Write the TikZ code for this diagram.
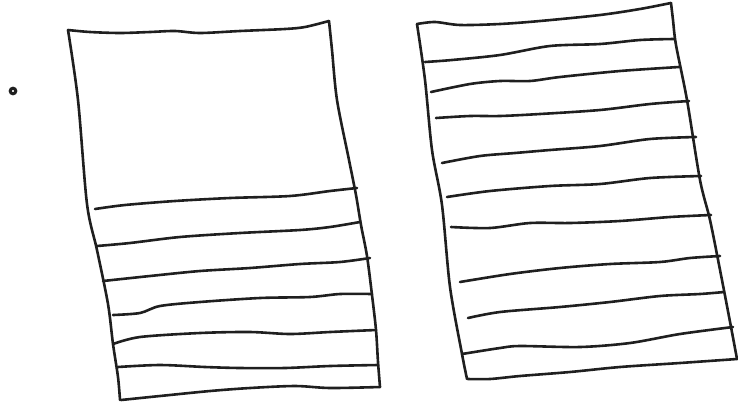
\documentclass[tikz,border=0pt]{standalone}
\begin{document}
\begin{tikzpicture}[x=1pt,y=-1pt,
  ink/.style={line width=2.6pt,line cap=round,line join=round,black!88},
  rule/.style={ink}]
\useasboundingbox (0,0) rectangle (738,408);
% dot
\draw[line width=3pt,black!88] (13,91) circle (2.8);
% ---------- left page ----------
\draw[ink] plot[smooth,tension=0.5] coordinates {(68,30) (90,32) (120,33) (150,32) (175,31) (200,33) (240,31) (285,29) (305,27) (329,21)};
\draw[ink] plot[smooth,tension=0.5] coordinates {(68,30) (78,100) (87,204) (97,250) (108,304) (113,344) (118,377) (120,400)};
\draw[ink] plot[smooth,tension=0.5] coordinates {(329,21) (332,50) (337,100) (349,160) (356,195) (361,225) (367,256) (372,295) (376,330) (378,362) (380,387)};
\draw[rule] plot[smooth,tension=0.5] coordinates {(95,209) (125,205) (175,201) (230,198) (290,196) (330,191) (357,188)};
\draw[rule] plot[smooth,tension=0.5] coordinates {(97,246) (130,243) (180,237) (240,233) (300,230) (330,227) (360,222)};
\draw[rule] plot[smooth,tension=0.5] coordinates {(103,281) (150,276) (200,271) (250,268) (300,264) (340,262) (370,258)};
\draw[rule] plot[smooth,tension=0.5] coordinates {(113,315) (140,313) (160,306) (200,302) (260,298) (310,297) (340,294) (372,294)};
\draw[rule] plot[smooth,tension=0.5] coordinates {(113,344) (140,337) (200,333) (250,332) (290,334) (330,332) (376,330)};
\draw[rule] plot[smooth,tension=0.5] coordinates {(118,367) (160,365) (205,367) (240,368) (285,368) (330,366) (378,365)};
\draw[ink] plot[smooth,tension=0.5] coordinates {(121,400) (160,396) (210,391) (250,388) (295,386) (330,388) (380,387)};
% ---------- right page ----------
\draw[ink] plot[smooth,tension=0.5] coordinates {(417,24) (435,22) (460,25) (500,24) (540,21) (600,15) (640,9) (671,3)};
\draw[ink] plot[smooth,tension=0.5] coordinates {(417,24) (425,80) (432,150) (442,205) (450,287) (462,354) (467,379)};
\draw[ink] plot[smooth,tension=0.5] coordinates {(671,3) (673,20) (676,45) (687,100) (700,180) (710,220) (721,275) (731,327) (737,359)};
\draw[rule] plot[smooth,tension=0.5] coordinates {(425,62) (452,60) (500,55) (550,46) (600,44) (640,40) (674,39)};
\draw[rule] plot[smooth,tension=0.5] coordinates {(431,92) (470,84) (500,81) (530,81) (560,77) (620,71) (679,67)};
\draw[rule] plot[smooth,tension=0.5] coordinates {(436,118) (470,116) (500,116) (540,114) (600,110) (650,104) (689,101)};
\draw[rule] plot[smooth,tension=0.5] coordinates {(442,163) (480,156) (515,153) (550,150) (600,146) (650,139) (696,137)};
\draw[rule] plot[smooth,tension=0.5] coordinates {(447,197) (490,191) (550,186) (600,184) (650,178) (701,176)};
\draw[rule] plot[smooth,tension=0.5] coordinates {(451,227) (490,228) (530,223) (570,223) (620,221) (670,217) (711,215)};
\draw[rule] plot[smooth,tension=0.5] coordinates {(460,282) (510,274) (560,268) (610,264) (660,262) (690,258) (720,256)};
\draw[rule] plot[smooth,tension=0.5] coordinates {(468,318) (500,312) (560,307) (610,302) (660,296) (700,294) (724,292)};
\draw[rule] plot[smooth,tension=0.5] coordinates {(462,354) (500,348) (520,346) (580,347) (630,343) (680,334) (733,327)};
\draw[ink] plot[smooth,tension=0.5] coordinates {(468,379) (490,379) (520,376) (570,372) (620,367) (680,363) (737,359)};
\end{tikzpicture}
\end{document}
